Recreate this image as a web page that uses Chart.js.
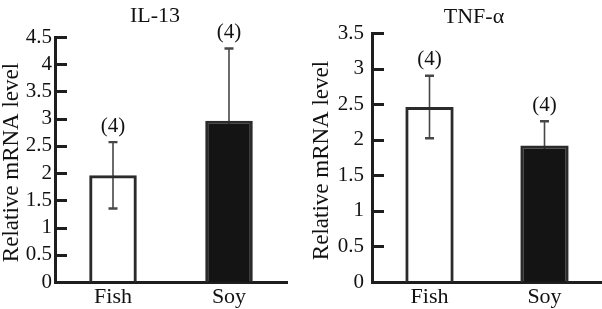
<!DOCTYPE html>
<html><head><meta charset="utf-8">
<script src="https://cdn.jsdelivr.net/npm/chart.js@4.4.1/dist/chart.umd.min.js"></script>
<style>
html,body{margin:0;padding:0;background:#fff;}
#wrap{position:relative;width:602px;height:309px;overflow:hidden;}
.cell{position:absolute;top:0;height:309px;}
#c1{left:0;width:300px;}
#c2{left:300px;width:302px;}
</style></head><body>
<div id="wrap"><div class="cell" id="c1"><canvas id="a"></canvas></div><div class="cell" id="c2"><canvas id="b"></canvas></div></div>
<script>
// ---- data ----
const categories = ['Fish', 'Soy'];
const il13Means = [1.96, 2.96];
const il13Errors = [0.61, 1.33];
const tnfMeans = [2.46, 1.92];
const tnfErrors = [0.44, 0.34];
const sampleSizes = ['(4)', '(4)'];
const il13Max = 4.5;
const tnfMax = 3.5;
const tickStep = 0.5;
const panelTitles = ['IL-13', 'TNF-\u03B1'];
const yAxisTitle = 'Relative mRNA level';

// ---- style ----
const SERIF = "'Liberation Serif','Times New Roman',serif";
const INK = '#111111';
const AXIS = '#1e1e1e';
const ERR = '#474747';
Chart.defaults.font.family = SERIF;
Chart.defaults.color = INK;

function panelPlugin(means, errors, title, look) {
  return {
    id: 'panel',
    beforeDatasetsDraw(chart) {
      const ctx = chart.ctx, xs = chart.scales.x, ys = chart.scales.y;
      ctx.save();
      ctx.strokeStyle = ERR;
      means.forEach((m, i) => {
        const px = xs.getPixelForValue(i);
        const yt = ys.getPixelForValue(m + errors[i]);
        const yb = ys.getPixelForValue(m - errors[i]);
        ctx.lineWidth = 1.6;
        ctx.beginPath(); ctx.moveTo(px, yt); ctx.lineTo(px, yb); ctx.stroke();
        ctx.lineWidth = 2.4;
        ctx.beginPath();
        ctx.moveTo(px - 4.5, yt); ctx.lineTo(px + 4.5, yt);
        ctx.moveTo(px - 4.5, yb); ctx.lineTo(px + 4.5, yb);
        ctx.stroke();
      });
      ctx.restore();
    },
    afterDraw(chart) {
      const ctx = chart.ctx, xs = chart.scales.x, ys = chart.scales.y;
      const area = chart.chartArea;
      ctx.save();
      // inward tick marks on the y axis
      ctx.strokeStyle = AXIS;
      ctx.lineWidth = 3;
      ctx.lineCap = 'butt';
      for (let i = 0; i < ys.ticks.length; i++) {
        const py = Math.round(ys.getPixelForTick(i)) + 0.5;
        ctx.beginPath();
        ctx.moveTo(area.left - 1, py);
        ctx.lineTo(area.left + 12, py);
        ctx.stroke();
      }
      // sample size labels
      ctx.fillStyle = INK;
      ctx.font = '21px ' + SERIF;
      ctx.textAlign = 'center';
      ctx.textBaseline = 'middle';
      means.forEach((m, i) => {
        const px = xs.getPixelForValue(i);
        const yt = ys.getPixelForValue(m + errors[i]);
        ctx.fillText(sampleSizes[i], px, yt - 16);
      });
      // panel title
      ctx.font = '22px ' + SERIF;
      ctx.fillText(title, look.titleX, look.titleY);
      // y-axis title
      ctx.translate(look.yTitleX, (area.top + area.bottom) / 2 + look.yTitleShift);
      ctx.rotate(-Math.PI / 2);
      ctx.font = '23px ' + SERIF;
      ctx.fillText(yAxisTitle, 0, 0);
      ctx.restore();
    }
  };
}

function makeChart(id, means, errors, maxV, title, look) {
  return new Chart(document.getElementById(id), {
    type: 'bar',
    data: {
      labels: categories,
      datasets: [{
        data: means,
        backgroundColor: ['rgba(255,255,255,0)', '#141414'],
        borderColor: '#2b2b2b',
        borderWidth: 3,
        barPercentage: look.barPct,
        categoryPercentage: 1
      }]
    },
    options: {
      responsive: true,
      maintainAspectRatio: false,
      animation: false,
      devicePixelRatio: 1,
      layout: { padding: { top: look.top, right: look.right, bottom: 0, left: 0 } },
      plugins: { legend: { display: false }, tooltip: { enabled: false }, title: { display: false } },
      scales: {
        x: {
          grid: { display: false, drawTicks: false },
          border: { display: true, color: AXIS, width: 3 },
          ticks: { font: { size: 22 }, color: INK, padding: 2 },
          afterFit(s) { s.height = 309 - look.bottomY; }
        },
        y: {
          min: 0, max: maxV,
          grid: { display: false, drawTicks: false },
          border: { display: true, color: AXIS, width: 3 },
          ticks: {
            stepSize: tickStep, autoSkip: false, font: { size: 21 }, color: INK, padding: look.tickPad,
            callback: v => String(Number(v.toFixed(2)))
          },
          afterFit(s) { s.width = look.left; }
        }
      }
    },
    plugins: [panelPlugin(means, errors, title, look)]
  });
}

makeChart('a', il13Means, il13Errors, il13Max, panelTitles[0],
  { top: 37, right: 13, left: 55, bottomY: 282, barPct: 0.41, tickPad: 3,
    titleX: 155, titleY: 16, yTitleX: 12, yTitleShift: 3 });
makeChart('b', tnfMeans, tnfErrors, tnfMax, panelTitles[1],
  { top: 33, right: 0, left: 72, bottomY: 282, barPct: 0.42, tickPad: 8,
    titleX: 174, titleY: 17, yTitleX: 22, yTitleShift: 3 });
</script>
</body></html>
